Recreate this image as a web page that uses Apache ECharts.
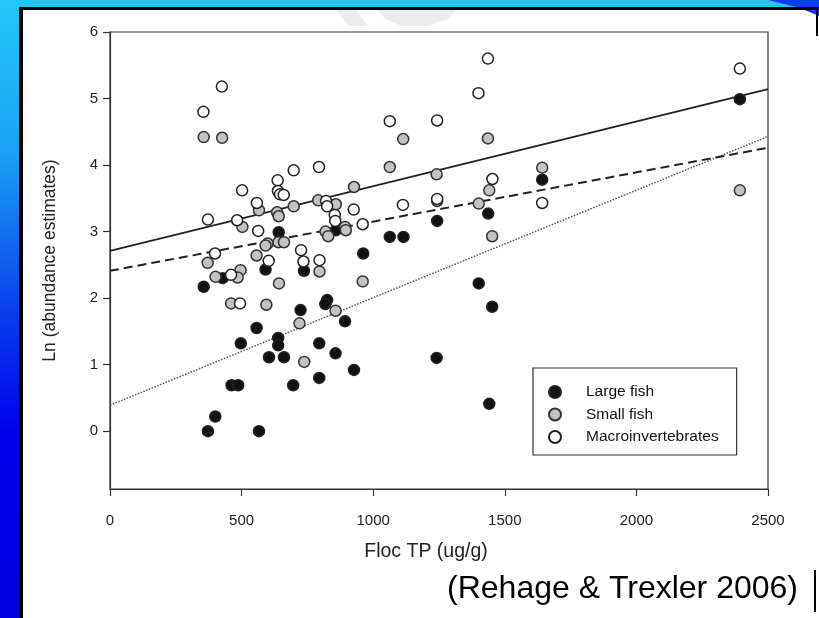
<!DOCTYPE html>
<html><head><meta charset="utf-8">
<style>html,body{margin:0;padding:0;background:#fff}#c{width:819px;height:618px}</style>
<script src="https://cdn.jsdelivr.net/npm/echarts@6/dist/echarts.min.js"></script>
</head><body><div id="c"></div>
<script>
// ---- data ----
const seriesNames = ['Large fish', 'Small fish', 'Macroinvertebrates'];
const largeX = [356,428,591,737,962,497,557,724,825,818,893,639,639,604,661,795,857,927,462,487,696,795,400,372,566,641,858,1063,1115,1243,1437,1642,1401,1452,1241,1441,2393];
const largeY = [2.17,2.30,2.43,2.41,2.67,1.32,1.55,1.82,1.97,1.91,1.65,1.40,1.29,1.11,1.11,1.32,1.17,0.92,0.69,0.69,0.69,0.80,0.22,0.00,0.00,2.99,3.02,2.92,2.92,3.16,3.27,3.78,2.22,1.87,1.10,0.41,4.99];
const smallX = [356,426,566,503,635,641,698,791,858,927,819,829,893,896,599,591,640,661,557,371,401,496,485,642,460,594,796,960,720,857,738,1114,1436,1063,1642,1241,1441,1243,1401,1452,2393];
const smallY = [4.42,4.41,3.32,3.07,3.29,3.23,3.38,3.47,3.41,3.67,3.00,2.93,3.07,3.02,2.82,2.79,2.84,2.84,2.64,2.53,2.32,2.42,2.31,2.22,1.92,1.90,2.40,2.25,1.62,1.81,1.04,4.39,4.40,3.97,3.96,3.86,3.62,3.46,3.42,2.93,3.62];
const macroX = [425,355,502,372,483,563,558,637,638,646,660,698,794,821,825,854,856,926,960,399,726,603,735,796,460,494,1436,1400,1063,1243,1453,1642,1113,1243,2393];
const macroY = [5.18,4.80,3.62,3.18,3.17,3.01,3.43,3.77,3.61,3.56,3.55,3.92,3.97,3.46,3.38,3.25,3.16,3.33,3.11,2.67,2.72,2.56,2.55,2.57,2.35,1.92,5.60,5.08,4.66,4.67,3.79,3.43,3.40,3.49,5.45];
// regression line end points (x = 0 and x = 2500)
const fitX = [0, 2500];
const fitLarge = [0.39, 4.43];
const fitSmall = [2.41, 4.26];
const fitMacro = [2.71, 5.14];
const xTicks = [0, 500, 1000, 1500, 2000, 2500];
const yTicks = [0, 1, 2, 3, 4, 5, 6];
const xTitle = 'Floc TP (ug/g)';
const yTitle = 'Ln (abundance estimates)';
const citation = '(Rehage & Trexler 2006)';

const zip = (xs, ys) => xs.map((x, i) => [x, ys[i]]);
const FONT = '"Liberation Sans", Arial, sans-serif';

const chart = echarts.init(document.getElementById('c'), null, {renderer: 'canvas'});
chart.setOption({
  backgroundColor: '#ffffff',
  animation: false,
  textStyle: {fontFamily: FONT},
  grid: {left: 110, right: 51, top: 32, bottom: 129, show: true, borderColor: '#333', borderWidth: 1.2, backgroundColor: 'transparent'},
  xAxis: {
    type: 'value', min: xTicks[0], max: xTicks[xTicks.length - 1], interval: 500,
    axisLine: {show: true, onZero: false, lineStyle: {color: '#333', width: 1.2}},
    axisTick: {show: true, length: 7, lineStyle: {color: '#333', width: 1.2}},
    axisLabel: {fontSize: 15, color: '#222', margin: 24, fontFamily: FONT, formatter: v => String(v)},
    splitLine: {show: false},
    name: xTitle, nameLocation: 'middle', nameGap: 53,
    nameTextStyle: {fontSize: 19.5, color: '#222', fontFamily: FONT, padding: [0, 26, 0, 0]}
  },
  yAxis: {
    type: 'value', min: -0.87, max: 6,
    axisLine: {show: true, onZero: false, lineStyle: {color: '#333', width: 1.2}},
    axisTick: {show: true, length: 7, customValues: yTicks, lineStyle: {color: '#333', width: 1.2}},
    axisLabel: {fontSize: 15, color: '#222', margin: 12, customValues: yTicks, fontFamily: FONT},
    splitLine: {show: false},
    name: yTitle, nameLocation: 'middle', nameGap: 51,
    nameTextStyle: {fontSize: 17.5, color: '#222', fontFamily: FONT}
  },
  legend: {
    data: seriesNames, orient: 'vertical', left: 533, top: 368,
    itemWidth: 40, itemHeight: 12, itemGap: 6.5,
    padding: [16, 18, 10, 15], borderColor: '#333', borderWidth: 1.2,
    textStyle: {fontSize: 15.5, color: '#111', fontFamily: FONT, padding: [0, 0, 0, 6]}
  },
  series: [
    {type: 'line', data: zip(fitX, fitLarge), showSymbol: false, silent: true, z: 1,
     lineStyle: {color: '#555', width: 1.5, type: [1.5, 1.5]}},
    {type: 'line', data: zip(fitX, fitSmall), showSymbol: false, silent: true, z: 1,
     lineStyle: {color: '#222', width: 2, type: [9, 5]}},
    {type: 'line', data: zip(fitX, fitMacro), showSymbol: false, silent: true, z: 1,
     lineStyle: {color: '#222', width: 1.8}},
    {name: seriesNames[0], type: 'scatter', data: zip(largeX, largeY), symbol: 'circle', symbolSize: 11, z: 3,
     itemStyle: {color: '#111', borderColor: '#222', borderWidth: 1.5, opacity: 1}},
    {name: seriesNames[1], type: 'scatter', data: zip(smallX, smallY), symbol: 'circle', symbolSize: 11, z: 3,
     itemStyle: {color: '#c2c2c2', borderColor: '#333', borderWidth: 1.5, opacity: 1}},
    {name: seriesNames[2], type: 'scatter', data: zip(macroX, macroY), symbol: 'circle', symbolSize: 11, z: 3,
     itemStyle: {color: '#ffffff', borderColor: '#222', borderWidth: 1.5, opacity: 1}}
  ],
  graphic: [
    // slide background strips
    {type: 'rect', shape: {x: 0, y: 0, width: 819, height: 8}, style: {fill: '#22c6f6'}, z: -10},
    {type: 'rect', shape: {x: 0, y: 0, width: 19, height: 618},
     style: {fill: new echarts.graphic.LinearGradient(0, 0, 0, 1, [
       {offset: 0, color: '#22c8f8'}, {offset: 0.25, color: '#1aa0f4'}, {offset: 0.5, color: '#0a40ec'},
       {offset: 0.7, color: '#0000ee'}, {offset: 1, color: '#0000e0'}])}, z: -10},
    {type: 'polygon', shape: {points: [[768, 0], [819, 0], [819, 16], [800, 8]]}, style: {fill: '#0a3ef0'}, z: -9},
    // black frame lines
    {type: 'rect', shape: {x: 19, y: 7, width: 800, height: 3}, style: {fill: '#000'}, z: -8},
    {type: 'rect', shape: {x: 19, y: 7, width: 4, height: 611}, style: {fill: '#000'}, z: -8},
    {type: 'rect', shape: {x: 816, y: 10, width: 2, height: 26}, style: {fill: '#000'}, z: -8},
    {type: 'rect', shape: {x: 814, y: 570, width: 2, height: 42}, style: {fill: '#000'}, z: -8},
    // faint watermark shapes
    {type: 'polygon', shape: {points: [[336, 10], [356, 10], [368, 26], [349, 26]]}, style: {fill: '#ececec'}, z: -9},
    {type: 'polygon', shape: {points: [[378, 10], [456, 10], [448, 19], [428, 26], [402, 26], [385, 19]]}, style: {fill: '#ececec'}, z: -9},
    // citation
    {type: 'text', right: 21, top: 573, style: {text: citation, font: '32px "Liberation Sans", Arial, sans-serif', fill: '#000'}}
  ]
});
</script></body></html>
